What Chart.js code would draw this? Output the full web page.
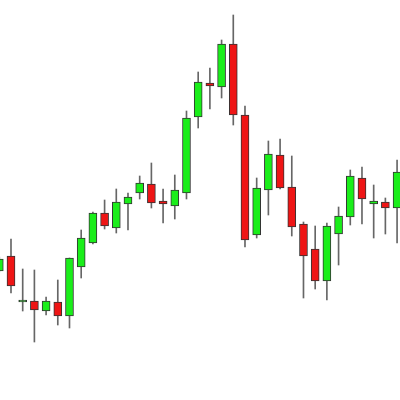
<!DOCTYPE html>
<html>
<head>
<meta charset="utf-8">
<script src="https://cdn.jsdelivr.net/npm/chart.js@4"></script>
<style>
  html, body { margin: 0; padding: 0; background: #fff; }
  #wrap { width: 400px; height: 400px; }
</style>
</head>
<body>
<div id="wrap"><canvas id="candles"></canvas></div>
<script>
// --- candle values ---
const openPrices  = [112.9, 114.4, 109.8, 109.9, 108.9, 109.8, 108.4, 113.3, 115.7, 118.7, 117.2, 119.6, 120.7, 121.6, 119.9, 119.4, 120.7, 128.3, 131.7, 131.3, 135.6, 128.5, 116.5, 121.0, 124.5, 121.3, 117.6, 115.1, 111.9, 116.6, 118.3, 122.2, 119.6, 119.8, 119.2];
const highPrices  = [114.3, 116.1, 113.1, 113.0, 110.3, 112.0, 114.2, 117.0, 118.8, 120.0, 121.1, 120.7, 122.4, 123.7, 121.1, 122.5, 128.9, 132.8, 133.2, 136.0, 138.5, 129.4, 122.2, 125.9, 126.1, 124.4, 117.8, 117.4, 117.7, 119.3, 123.0, 123.3, 121.5, 120.2, 124.0];
const lowPrices   = [112.8, 110.7, 108.9, 105.8, 108.5, 107.5, 107.2, 112.2, 115.6, 117.1, 116.7, 117.0, 120.1, 119.2, 117.7, 118.1, 120.1, 127.2, 129.1, 130.2, 127.5, 115.3, 116.2, 118.5, 121.1, 116.4, 110.2, 111.1, 110.0, 113.5, 117.5, 117.6, 116.2, 116.6, 115.7];
const closePrices = [114.1, 111.4, 110.0, 109.0, 109.9, 108.4, 114.2, 116.2, 118.7, 117.4, 119.8, 120.3, 121.7, 119.7, 119.6, 121.0, 128.2, 131.8, 131.4, 135.6, 128.5, 116.0, 121.2, 124.6, 121.2, 117.3, 114.4, 111.9, 117.4, 118.4, 122.4, 120.1, 119.9, 119.2, 122.8];

const upColor = '#1aee1a';
const downColor = '#ee1515';

const idx = openPrices.map((_, i) => i);

const wickData = idx.map(i => ({ x: i, y: [lowPrices[i], highPrices[i]] }));
const bodyData = idx.map(i => ({
    x: i,
    y: [Math.min(openPrices[i], closePrices[i]), Math.max(openPrices[i], closePrices[i])]
}));
const bodyColors = idx.map(i => closePrices[i] >= openPrices[i] ? upColor : downColor);

const ctx = document.getElementById('candles').getContext('2d');
new Chart(ctx, {
    type: 'bar',
    data: {
        datasets: [{
            label: 'wick',
            data: wickData,
            backgroundColor: '#666',
            barThickness: 1,
            grouped: false,
            order: 2
        }, {
            label: 'body',
            data: bodyData,
            backgroundColor: bodyColors,
            borderColor: '#333',
            borderWidth: 1,
            borderSkipped: false,
            barThickness: 8,
            grouped: false,
            order: 1
        }]
    },
    options: {
        responsive: true, maintainAspectRatio: false,
        animation: false,
        layout: { padding: 0 },
        plugins: { legend: { display: false }, tooltip: { enabled: false } },
        scales: {
            x: { type: 'linear', display: false, min: 0.06, max: 34.25, offset: false },
            y: { display: false, min: 100, max: 140 }
        }
    }
});
</script>
</body>
</html>
